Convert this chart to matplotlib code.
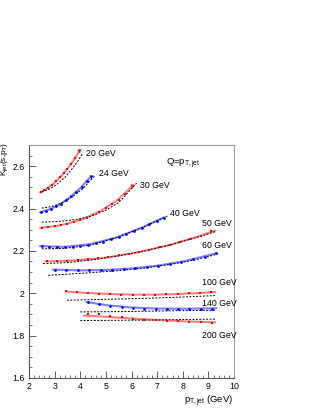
import matplotlib
matplotlib.use('Agg')
import matplotlib.pyplot as plt
from matplotlib.ticker import MultipleLocator, FormatStrFormatter

plt.rcParams['font.family'] = ['Liberation Sans', 'DejaVu Sans']
plt.rcParams['mathtext.fontset'] = 'custom'
plt.rcParams['mathtext.rm'] = 'Liberation Sans'
plt.rcParams['mathtext.it'] = 'Liberation Sans'

# beam energies and colours of the curves
energies = ['20 GeV', '24 GeV', '30 GeV', '40 GeV', '50 GeV', '60 GeV', '100 GeV', '140 GeV', '200 GeV']
colors = ['red', 'blue', 'red', 'blue', 'red', 'blue', 'red', 'blue', 'red']

# measured points
pts_x = [
    [2.45, 2.6, 2.75, 2.9, 3.05, 3.2, 3.35, 3.5, 3.65, 3.8, 3.96],
    [2.45, 2.65, 2.85, 3.05, 3.25, 3.45, 3.65, 3.85, 4.05, 4.25, 4.42],
    [2.5, 2.75, 3.0, 3.25, 3.5, 3.75, 4.0, 4.25, 4.5, 4.75, 5.0, 5.25, 5.5, 5.75, 6.02],
    [2.5, 2.8, 3.1, 3.4, 3.7, 4.0, 4.3, 4.6, 4.9, 5.2, 5.5, 5.8, 6.1, 6.4, 6.7, 7.0, 7.25],
    [2.7, 3.1, 3.5, 3.9, 4.3, 4.7, 5.1, 5.5, 5.9, 6.3, 6.7, 7.1, 7.5, 7.9, 8.3, 8.7, 9.1],
    [3.0, 3.45, 3.9, 4.35, 4.8, 5.25, 5.7, 6.15, 6.6, 7.05, 7.5, 7.95, 8.4, 8.85, 9.3],
    [3.44, 3.87, 4.30, 4.73, 5.16, 5.6, 6.04, 6.48, 6.92, 7.36, 7.8, 8.24, 8.68, 9.12],
    [4.3, 4.74, 5.18, 5.62, 6.06, 6.5, 6.94, 7.38, 7.82, 8.26, 8.7, 9.14],
    [4.3, 4.74, 5.18, 5.62, 6.06, 6.5, 6.94, 7.38, 7.82, 8.26, 8.7, 9.14],
]
pts_y = [
    [2.478, 2.486, 2.499, 2.513, 2.529, 2.547, 2.567, 2.588, 2.612, 2.638, 2.672],
    [2.383, 2.390, 2.399, 2.410, 2.423, 2.440, 2.458, 2.479, 2.502, 2.528, 2.550],
    [2.310, 2.312, 2.317, 2.322, 2.329, 2.337, 2.346, 2.357, 2.370, 2.385, 2.401, 2.420, 2.442, 2.468, 2.507],
    [2.222, 2.220, 2.219, 2.219, 2.220, 2.223, 2.228, 2.235, 2.244, 2.255, 2.267, 2.280, 2.294, 2.309, 2.325, 2.342, 2.357],
    [2.151, 2.152, 2.154, 2.157, 2.161, 2.166, 2.172, 2.179, 2.187, 2.196, 2.206, 2.217, 2.229, 2.242, 2.256, 2.271, 2.293],
    [2.111, 2.109, 2.108, 2.108, 2.109, 2.111, 2.114, 2.118, 2.124, 2.131, 2.139, 2.149, 2.160, 2.173, 2.188],
    [2.010, 2.005, 2.001, 1.998, 1.996, 1.994, 1.993, 1.993, 1.994, 1.995, 1.997, 1.999, 2.002, 2.006],
    [1.958, 1.948, 1.940, 1.933, 1.930, 1.928, 1.927, 1.926, 1.926, 1.926, 1.927, 1.928],
    [1.902, 1.901, 1.894, 1.887, 1.880, 1.876, 1.873, 1.870, 1.868, 1.866, 1.864, 1.862],
]

# fitted curves (solid, coloured)
fit_x = [
    [2.4, 2.7, 3.0, 3.3, 3.6, 3.8, 4.0],
    [2.4, 2.8, 3.2, 3.6, 4.0, 4.45],
    [2.4, 3.0, 3.6, 4.2, 4.8, 5.4, 6.05],
    [2.4, 3.4, 4.4, 5.4, 6.4, 7.3],
    [2.6, 3.8, 5.0, 6.2, 7.4, 8.6, 9.3],
    [2.9, 4.0, 5.0, 6.0, 7.0, 8.0, 9.35],
    [3.4, 4.5, 5.5, 6.5, 7.5, 8.5, 9.3],
    [4.2, 5.0, 6.0, 7.0, 8.0, 9.35],
    [4.1, 5.0, 6.0, 7.0, 8.0, 9.3],
]
fit_y = [
    [2.474, 2.494, 2.522, 2.559, 2.603, 2.638, 2.680],
    [2.381, 2.396, 2.419, 2.453, 2.496, 2.556],
    [2.309, 2.316, 2.332, 2.355, 2.389, 2.435, 2.508],
    [2.223, 2.219, 2.232, 2.263, 2.309, 2.360],
    [2.150, 2.155, 2.168, 2.192, 2.225, 2.268, 2.297],
    [2.112, 2.108, 2.110, 2.117, 2.130, 2.150, 2.190],
    [2.008, 2.000, 1.995, 1.993, 1.995, 2.000, 2.006],
    [1.960, 1.944, 1.933, 1.928, 1.927, 1.929],
    [1.895, 1.889, 1.881, 1.874, 1.868, 1.863],
]

# second calculation (black dashed)
dash_x = [
    [2.5, 2.8, 3.1, 3.4, 3.7, 3.9, 4.08],
    [2.5, 2.9, 3.3, 3.7, 4.1, 4.55],
    [2.5, 3.0, 3.5, 4.0, 4.5, 5.0, 5.5, 6.2],
    [2.5, 3.4, 4.4, 5.4, 6.4, 7.4],
    [2.55, 3.5, 4.5, 5.5, 6.5, 7.5, 8.5, 9.3],
    [2.75, 3.5, 4.5, 5.5, 6.5, 7.5, 8.5, 9.35],
    [3.48, 4.5, 5.5, 6.5, 7.5, 8.5, 9.25],
    [4.0, 5.0, 6.0, 7.0, 8.0, 9.3],
    [4.0, 5.0, 6.0, 7.0, 8.0, 9.3],
]
dash_y = [
    [2.478, 2.492, 2.515, 2.547, 2.590, 2.623, 2.658],
    [2.402, 2.410, 2.428, 2.456, 2.494, 2.552],
    [2.336, 2.338, 2.343, 2.352, 2.367, 2.392, 2.428, 2.520],
    [2.210, 2.212, 2.228, 2.262, 2.310, 2.365],
    [2.140, 2.145, 2.158, 2.177, 2.200, 2.228, 2.262, 2.292],
    [2.085, 2.090, 2.098, 2.107, 2.119, 2.136, 2.158, 2.185],
    [1.967, 1.970, 1.973, 1.976, 1.980, 1.985, 1.989],
    [1.912, 1.913, 1.914, 1.916, 1.918, 1.920],
    [1.871, 1.872, 1.873, 1.874, 1.876, 1.878],
]

# label anchor points
lab_x = [4.23, 4.73, 6.34, 7.5, 8.75, 8.75, 8.75, 8.75, 8.75]
lab_y = [2.659, 2.565, 2.508, 2.375, 2.328, 2.226, 2.053, 1.954, 1.802]

fig = plt.figure(figsize=(3.16, 4.09), dpi=100)
ax = fig.add_axes([29 / 316, 1 - 378 / 409, 205 / 316, 233 / 409])

for i in range(len(energies)):
    c = colors[i]
    mk = 's' if c == 'red' else 'o'
    ax.plot(fit_x[i], fit_y[i], color=c, lw=1.5, alpha=0.5, solid_capstyle='butt')
    ax.plot(dash_x[i], dash_y[i], color='black', lw=0.7, ls=(0, (2, 1.5)))
    ax.plot(pts_x[i][:-1], pts_y[i][:-1], ls='none', marker=mk, ms=2.0, color=c, mew=0)
    last_mk = 'v' if i < 3 else mk
    ax.plot(pts_x[i][-1:], pts_y[i][-1:], ls='none', marker=last_mk, ms=2.8 if i < 3 else 2.0, color=c, mew=0)
    ax.text(lab_x[i], lab_y[i], energies[i], fontsize=6.3, ha='left', va='center')

ax.text(8.03, 2.61, r'Q=p$_{\mathrm{T,jet}}$', fontsize=6.8, ha='center', va='center')

ax.set_xlim(2, 10)
ax.set_ylim(1.6, 2.7)
ax.xaxis.set_major_locator(MultipleLocator(1))
ax.xaxis.set_minor_locator(MultipleLocator(0.2))
ax.yaxis.set_major_locator(MultipleLocator(0.2))
ax.yaxis.set_minor_locator(MultipleLocator(0.05))
ax.yaxis.set_major_formatter(FormatStrFormatter('%g'))
ax.tick_params(which='both', direction='in', top=False, right=False, labelsize=6.3, colors='#444444', labelcolor='black')
ax.tick_params(which='major', length=5, width=0.6, pad=3)
ax.tick_params(which='minor', length=2.5, width=0.5)
for s in ax.spines.values():
    s.set_color('#999999')
    s.set_linewidth(0.8)
ax.spines['left'].set_color('#555555')
ax.spines['bottom'].set_color('#555555')

fig.text(5 / 316, 1 - 142 / 409, r'K$_{\mathrm{jet}}$(s,p$_{\mathrm{T}}$)', rotation=90, fontsize=6.0, ha='center', va='top')
fig.text(233 / 316, 1 - 401 / 409, r'p$_{\mathrm{T,jet}}$ (GeV)', fontsize=6.8, ha='right', va='center')

fig.savefig('out.png', dpi=100)
